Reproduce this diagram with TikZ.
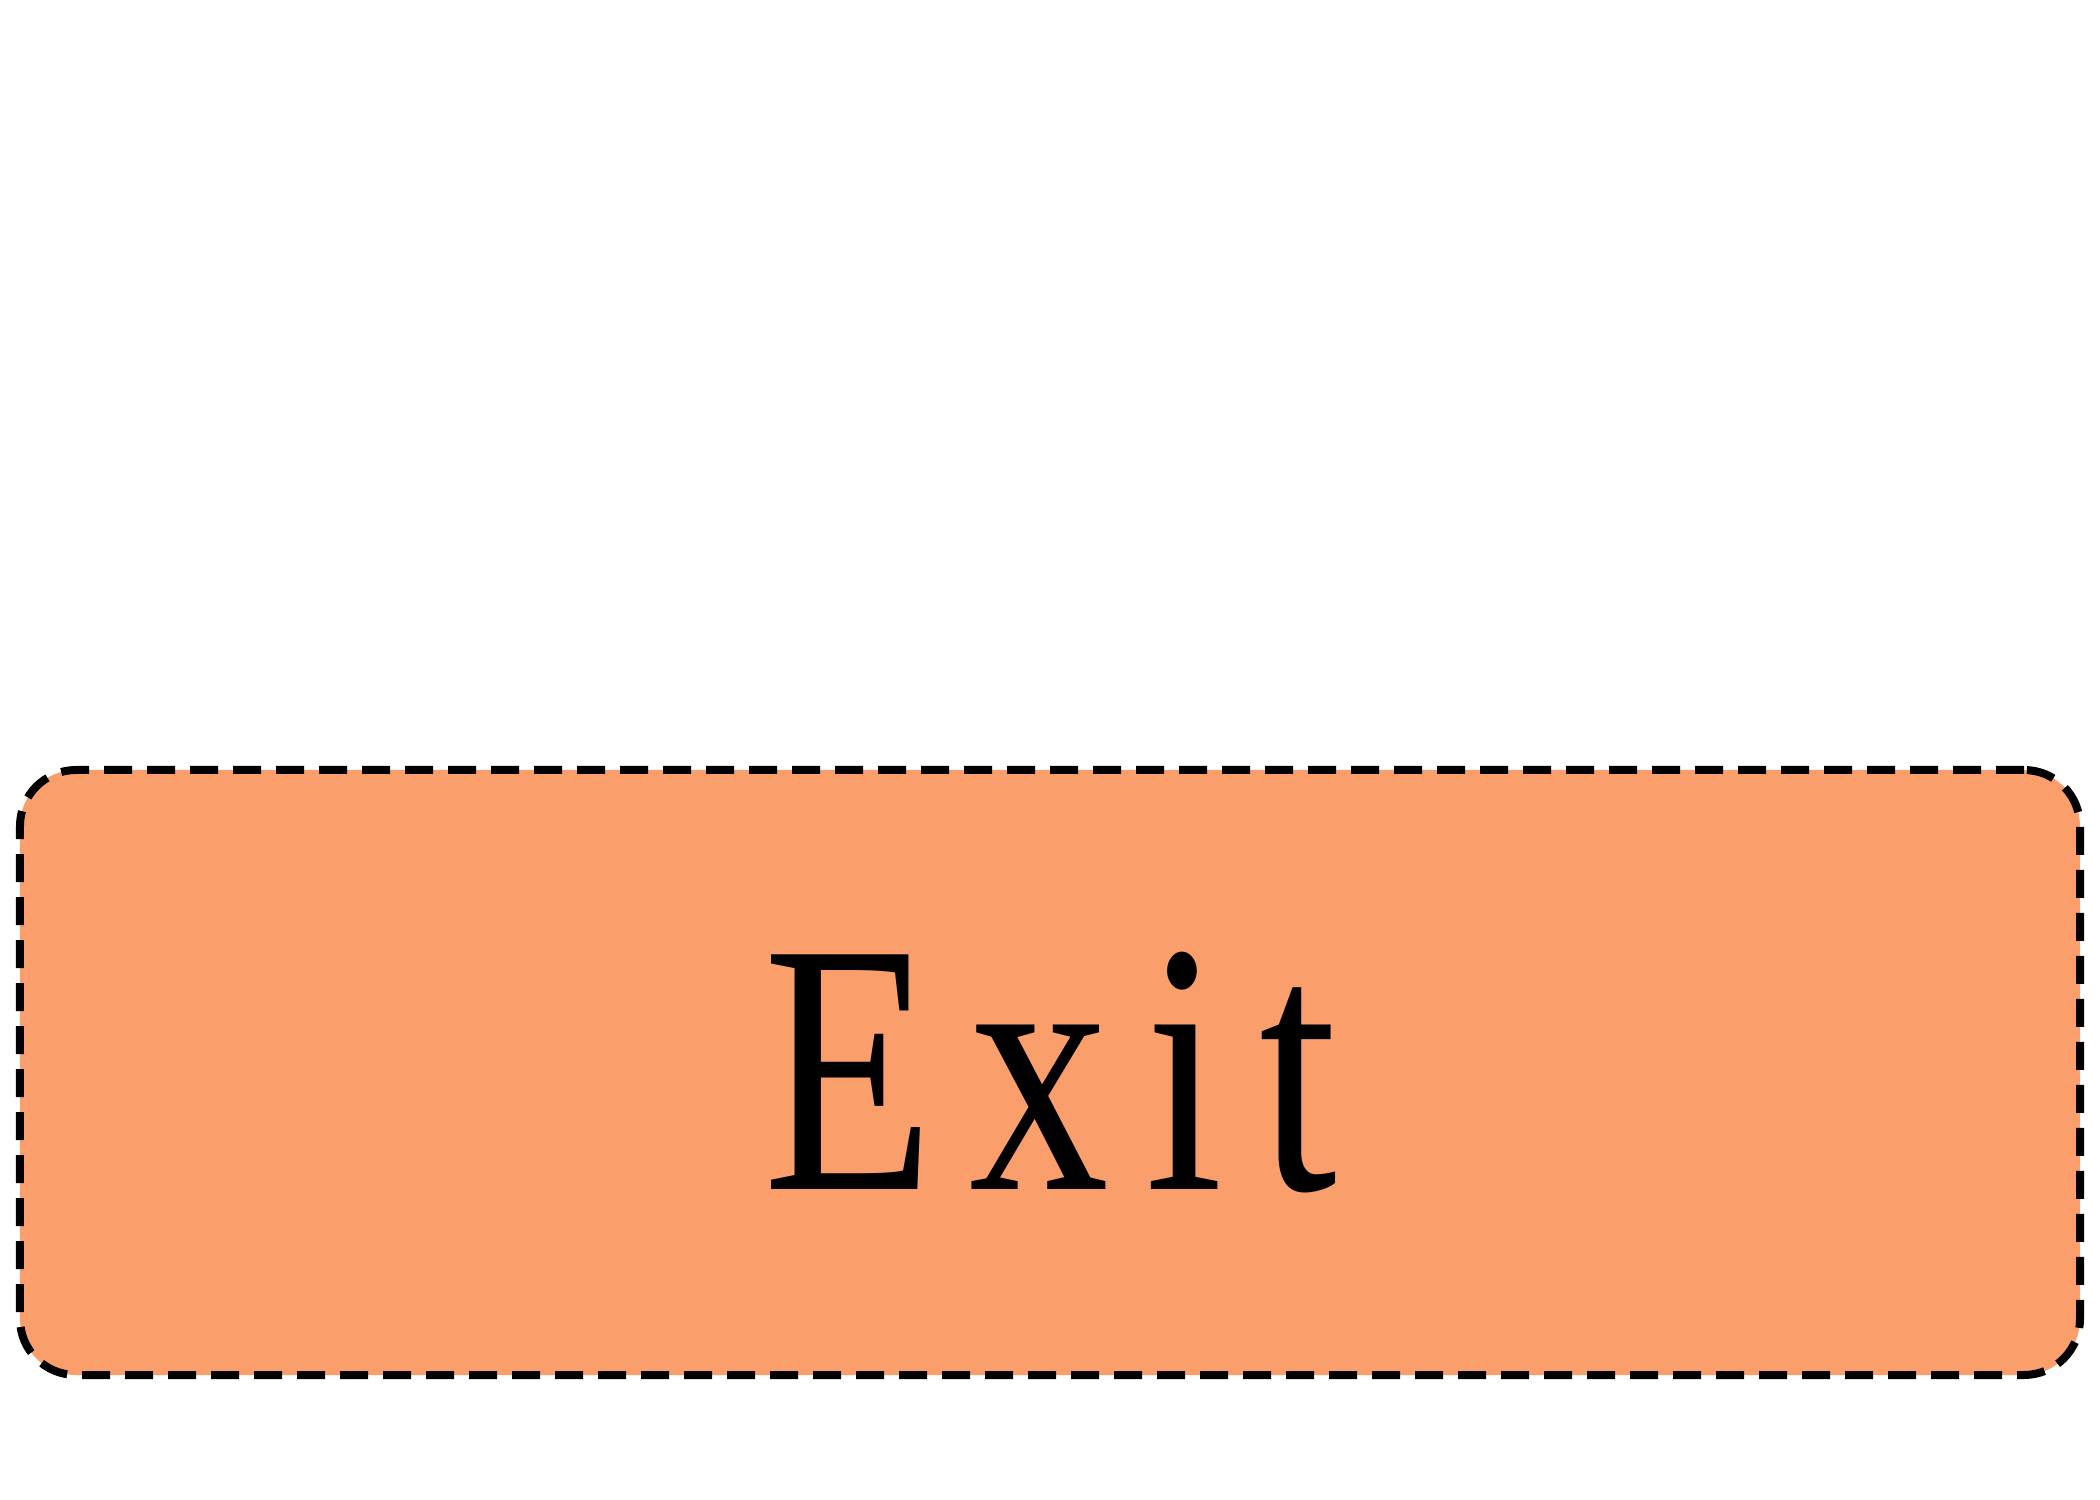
\documentclass[tikz,border=0pt]{standalone}
\usepackage{fontspec}
\usetikzlibrary{positioning}
\newfontfamily\exitfont[FakeStretch=0.78, LetterSpace=10]{Liberation Serif}
\definecolor{exitorange}{HTML}{FA9F6B}

\begin{document}
\begin{tikzpicture}[
  exitbox/.style={rectangle, rounded corners=0.56cm, draw=black, fill=exitorange,
                  line width=0.08cm, dash pattern=on 0.28cm off 0.15cm,
                  minimum width=20.6cm, minimum height=6.05cm, inner sep=0pt,
                  font=\exitfont\fontsize{102}{102}\selectfont}
]

% === Page frame ===
\useasboundingbox (0, 0) rectangle (21, 15);

% === Exit state ===
\node[exitbox] (exit) at (10.5, 4.275) {Exit};

\end{tikzpicture}
\end{document}
